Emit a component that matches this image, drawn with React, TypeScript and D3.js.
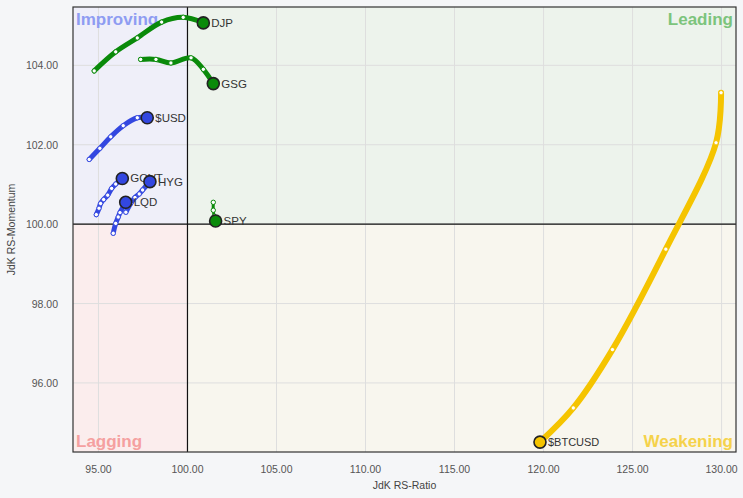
import React from "react";
import * as d3 from "d3";

const W = 743;
const H = 498;

const xDomain = [93.57, 130.81];
const yDomain = [94.26, 105.47];
const xTicks = [95, 100, 105, 110, 115, 120, 125, 130];
const yTicks = [96, 98, 100, 102, 104];

const seriesNames = ["DJP", "GSG", "$USD", "GOVT", "HYG", "LQD", "SPY", "$BTCUSD"];
const seriesColors = ["#0a8a0a", "#0a8a0a", "#3347e0", "#3347e0", "#3347e0", "#3347e0", "#0a8a0a", "#f5c400"];
const seriesWidths = [5, 5, 5, 5, 5, 5, 3, 6];

const djpX = [94.76, 95.97, 97.18, 98.55, 99.76, 100.89];
const djpY = [103.86, 104.34, 104.69, 105.09, 105.21, 105.07];
const gsgX = [97.37, 98.23, 99.07, 100.2, 100.89, 101.45];
const gsgY = [104.15, 104.15, 104.06, 104.19, 103.9, 103.54];
const usdX = [94.48, 95.08, 95.69, 96.39, 97.18, 97.74];
const usdY = [101.63, 101.91, 102.2, 102.48, 102.68, 102.68];
const govtX = [94.88, 95.03, 95.12, 95.29, 95.52, 95.74, 95.97, 96.34];
const govtY = [100.24, 100.4, 100.52, 100.62, 100.73, 100.9, 101.01, 101.15];
const hygX = [96.54, 96.81, 97.05, 97.29, 97.48, 97.71, 97.89];
const hygY = [100.3, 100.52, 100.67, 100.76, 100.86, 100.98, 101.07];
const lqdX = [95.83, 95.97, 96.11, 96.21, 96.53];
const lqdY = [99.77, 100.02, 100.18, 100.29, 100.55];
const spyX = [101.45, 101.45, 101.5, 101.58];
const spyY = [100.55, 100.35, 100.2, 100.08];
const btcX = [129.97, 129.69, 126.87, 123.87, 121.67, 119.8];
const btcY = [103.31, 102.05, 99.37, 96.84, 95.37, 94.51];

const seriesX = [djpX, gsgX, usdX, govtX, hygX, lqdX, spyX, btcX];
const seriesY = [djpY, gsgY, usdY, govtY, hygY, lqdY, spyY, btcY];

const quadrantNames = ["Improving", "Leading", "Lagging", "Weakening"];

export default function App() {
  const left = 73, right = 736, top = 7, bottom = 452;
  const x = d3.scaleLinear().domain(xDomain).range([left, right]);
  const y = d3.scaleLinear().domain(yDomain).range([bottom, top]);
  const cx = x(100);
  const cy = y(100);
  const font = "Liberation Sans, Arial, sans-serif";

  const line = d3
    .line<[number, number]>()
    .x((d) => x(d[0]))
    .y((d) => y(d[1]))
    .curve(d3.curveCatmullRom.alpha(0.5));

  return (
    <svg
      width={W}
      height={H}
      style={{ position: "absolute", left: 0, top: 0, background: "#f5f6f8" }}
      fontFamily={font}
    >
      {/* quadrants */}
      <rect x={left} y={top} width={cx - left} height={cy - top} fill="#efeff9" />
      <rect x={cx} y={top} width={right - cx} height={cy - top} fill="#edf3ec" />
      <rect x={left} y={cy} width={cx - left} height={bottom - cy} fill="#fbeded" />
      <rect x={cx} y={cy} width={right - cx} height={bottom - cy} fill="#f8f6ee" />
      {/* grid */}
      {xTicks.map((t) => (
        <line key={"gx" + t} x1={x(t)} x2={x(t)} y1={top} y2={bottom} stroke="#dedede" strokeWidth={1} />
      ))}
      {yTicks.map((t) => (
        <line key={"gy" + t} x1={left} x2={right} y1={y(t)} y2={y(t)} stroke="#dedede" strokeWidth={1} />
      ))}
      {/* quadrant labels */}
      <text x={left + 3} y={top + 18} fontSize={17} fontWeight="bold" fill="#8e9cf2">{quadrantNames[0]}</text>
      <text x={right - 3} y={top + 18} fontSize={17} fontWeight="bold" fill="#7cc47c" textAnchor="end">{quadrantNames[1]}</text>
      <text x={left + 3} y={bottom - 5} fontSize={17} fontWeight="bold" fill="#f5a0a0">{quadrantNames[2]}</text>
      <text x={right - 3} y={bottom - 5} fontSize={17} fontWeight="bold" fill="#f5d24a" textAnchor="end">{quadrantNames[3]}</text>
      {/* center axes */}
      <line x1={cx} x2={cx} y1={top} y2={bottom} stroke="#111" strokeWidth={1.2} />
      <line x1={left} x2={right} y1={cy} y2={cy} stroke="#111" strokeWidth={1.2} />
      {/* border */}
      <rect x={left} y={top} width={right - left} height={bottom - top} fill="none" stroke="#333" strokeWidth={1.2} />
      {/* series */}
      {seriesNames.map((name, i) => {
        const pts: [number, number][] = seriesX[i].map((v, j) => [v, seriesY[i][j]]);
        const head = pts[pts.length - 1];
        const color = seriesColors[i];
        return (
          <g key={name}>
            <path d={line(pts) || ""} fill="none" stroke={color} strokeWidth={seriesWidths[i]} strokeLinecap="round" strokeLinejoin="round" />
            {pts.slice(0, -1).map((p, j) => (
              <circle key={j} cx={x(p[0])} cy={y(p[1])} r={2.2} fill="#fff" stroke={color} strokeWidth={1} />
            ))}
            <circle cx={x(head[0])} cy={y(head[1])} r={6} fill={color} stroke="#222" strokeWidth={1.6} />
            <text x={x(head[0]) + 8} y={y(head[1]) + 4} fontSize={name === "$BTCUSD" ? 11 : 11.5} fill="#333">
              {name}
            </text>
          </g>
        );
      })}
      {/* x axis ticks */}
      {xTicks.map((t) => (
        <text key={"tx" + t} x={x(t)} y={473} fontSize={10.5} fill="#555" textAnchor="middle">
          {t.toFixed(2)}
        </text>
      ))}
      <text x={(left + right) / 2} y={489} fontSize={10.5} fill="#444" textAnchor="middle">JdK RS-Ratio</text>
      {/* y axis ticks */}
      {yTicks.map((t) => (
        <text key={"ty" + t} x={58} y={y(t) + 4} fontSize={10.5} fill="#555" textAnchor="end">
          {t.toFixed(2)}
        </text>
      ))}
      <text
        transform={`translate(15,${(top + bottom) / 2}) rotate(-90)`}
        fontSize={10.5}
        fill="#444"
        textAnchor="middle"
      >
        JdK RS-Momentum
      </text>
    </svg>
  );
}
